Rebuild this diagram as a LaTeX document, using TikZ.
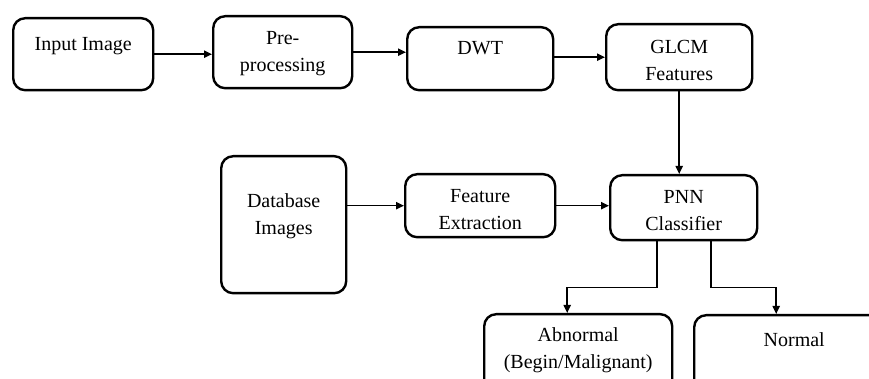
\documentclass[tikz,border=0pt]{standalone}
\usepackage{fontspec}
\setmainfont{Liberation Serif}
\usetikzlibrary{arrows.meta}

\tikzset{
  blk/.style={draw, line width=1.2pt, rounded corners=6pt, anchor=north west, inner sep=0pt},
  blktext/.style={anchor=north, align=center, inner sep=0pt, font=\fontsize{10}{13.5}\selectfont},
  arr/.style={line width=0.75pt, -{Triangle[length=4pt,width=3.6pt]}}
}

\begin{document}
\begin{tikzpicture}[x=0.5pt,y=-0.5pt]
    \useasboundingbox (0,0) rectangle (869,379);
    \clip (0,0) rectangle (869,379);
    % top row
    \node[blk, minimum width=70pt, minimum height=36pt, label={[blktext,yshift=-10pt]north:Input Image}] (inp) at (12,17) {};
    \node[blk, minimum width=69.5pt, minimum height=36pt, label={[blktext,yshift=-8.2pt]north:Pre-\\processing}] (pre) at (212,15) {};
    \node[blk, minimum width=73pt, minimum height=31.5pt, label={[blktext,yshift=-7.7pt]north:DWT}] (dwt) at (406,26) {};
    \node[blk, minimum width=73pt, minimum height=33pt, label={[blktext,yshift=-8.2pt]north:GLCM\\Features}] (glcm) at (605,23) {};
    % middle row
    \node[blk, minimum width=62.5pt, minimum height=68.5pt, label={[blktext,yshift=-19.2pt]north:Database\\Images}] (db) at (220,155) {};
    \node[blk, minimum width=75pt, minimum height=31.5pt, label={[blktext,yshift=-8.2pt]north:Feature\\Extraction}] (fext) at (404,173) {};
    \node[blk, minimum width=73.5pt, minimum height=32.5pt, label={[blktext,yshift=-8.2pt]north:PNN\\Classifier}] (pnn) at (609,174) {};
    % results
    \node[blk, minimum width=94pt, minimum height=45pt, label={[blktext,yshift=-7.2pt]north:Abnormal\\(Begin/Malignant)}] (abn) at (483,313) {};
    \node[blk, minimum width=100pt, minimum height=45pt, label={[blktext,yshift=-9.2pt]north:Normal}] (nor) at (693,314) {};

    \draw[arr] (inp.east) -- (inp.east -| pre.west);
    \draw[arr] (pre.east) -- (pre.east -| dwt.west);
    \draw[arr] (dwt.east |- glcm.west) -- (glcm.west);
    \draw[arr] (glcm.south) -- (glcm.south |- pnn.north);
    \draw[arr] (db.east |- fext.west) -- (fext.west);
    \draw[arr] (fext.east) -- (fext.east -| pnn.west);
    \draw[arr] ([xshift=-13.25pt]pnn.south) -- ++(0,-23pt) -| ([xshift=-5.5pt]abn.north);
    \draw[arr] ([xshift=13.75pt]pnn.south) -- ++(0,-23pt) -| ([xshift=-9pt]nor.north);
\end{tikzpicture}
\end{document}
